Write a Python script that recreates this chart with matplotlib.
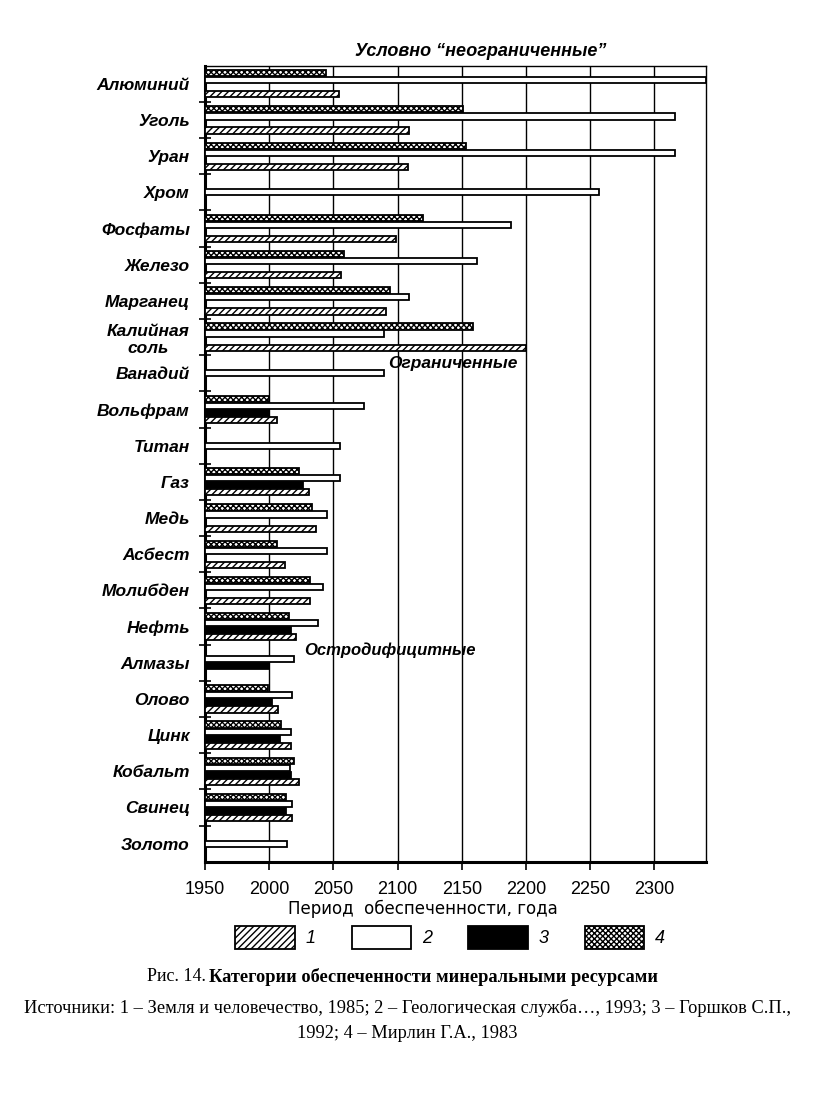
import numpy as np
import matplotlib
matplotlib.use("Agg")
import matplotlib.pyplot as plt
from matplotlib.patches import Patch

plt.rcParams["hatch.linewidth"] = 1.0
plt.rcParams["font.family"] = ["Liberation Sans", "DejaVu Sans"]

categories = ["Алюминий", "Уголь", "Уран", "Хром", "Фосфаты", "Железо", "Марганец",
              "Калийная\nсоль", "Ванадий", "Вольфрам", "Титан", "Газ", "Медь", "Асбест",
              "Молибден", "Нефть", "Алмазы", "Олово", "Цинк", "Кобальт", "Свинец", "Золото"]

nan = np.nan
# years of resource supply per source (nan = no data)
src4 = [2044, 2151, 2153, nan, 2120, 2058, 2094, 2159, nan, 2000, nan, 2023, 2033, 2006,
        2032, 2015, nan, 1999, 2009, 2019, 2013, nan]
src2 = [2340, 2316, 2316, 2257, 2188, 2162, 2109, 2089, 2089, 2074, 2055, 2055, 2045, 2045,
        2042, 2038, 2019, 2018, 2017, 2016, 2018, 2014]
src3 = [nan, nan, nan, nan, nan, nan, nan, nan, nan, 2000, nan, 2026, nan, nan,
        nan, 2017, 2000, 2002, 2008, 2017, 2013, nan]
src1 = [2054, 2109, 2108, nan, 2099, 2056, 2091, 2200, nan, 2006, nan, 2031, 2036, 2012,
        2032, 2021, nan, 2007, 2017, 2023, 2018, nan]

x_ticks = [1950, 2000, 2050, 2100, 2150, 2200, 2250, 2300]
legend_labels = ["1", "2", "3", "4"]

# draw order top->bottom inside each category: 4, 2, 3, 1
series = [
    (src4, dict(facecolor="white", hatch="xxxxxx")),
    (src2, dict(facecolor="white")),
    (src3, dict(facecolor="black")),
    (src1, dict(facecolor="white", hatch="/////")),
]

fig = plt.figure(figsize=(8.14, 10.95), dpi=100)
ax = fig.add_axes([0.252, 0.213, 0.615, 0.727])

slot = 0.195
bar_h = 0.17
x0 = 1950
for i in range(len(categories)):
    present = [k for k, (vals, _) in enumerate(series) if not np.isnan(vals[i])]
    first, last = min(present), max(present)
    mid = (first + last) / 2
    for k in range(first, last + 1):
        vals, style = series[k]
        v = vals[i]
        if np.isnan(v):
            continue
        y = i + (k - mid) * slot
        ax.barh(y, v - x0, left=x0, height=bar_h, edgecolor="black", linewidth=1.3,
                clip_on=True, zorder=3, **style)

ax.set_xlim(1950, 2340)
ax.set_ylim(len(categories) - 0.5, -0.5)

for xv in x_ticks[1:]:
    ax.axvline(xv, color="black", lw=1.0, zorder=1)

ax.set_xticks(x_ticks)
ax.set_xticklabels([str(t) for t in x_ticks], fontsize=13)
ax.tick_params(axis="x", length=6, width=1.2, direction="out", pad=8)

ax.set_yticks(range(len(categories)))
ax.set_yticklabels(categories, fontsize=12.5, fontweight="bold", fontstyle="italic",
                   multialignment="center")
ax.tick_params(axis="y", length=0, pad=11)
ax.set_yticks(np.arange(0.5, len(categories) - 0.5, 1), minor=True)
ax.tick_params(axis="y", which="minor", length=8, width=1.2, direction="inout")

for s in ["left", "bottom"]:
    ax.spines[s].set_linewidth(2.2)
for s in ["top", "right"]:
    ax.spines[s].set_linewidth(1.0)

ax.set_xlabel("Период  обеспеченности, года", fontsize=12, labelpad=3,
              family=["DejaVu Sans"])
ax.xaxis.set_label_coords(0.434, -0.048)

txt_style = dict(fontweight="bold", fontstyle="italic")
fig.text(0.59, 0.953, "Условно “неограниченные”", ha="center", va="center",
         fontsize=13, **txt_style)
ax.text(2193, 7.74, "Ограниченные", ha="right", va="center", zorder=4,
        fontsize=12.5, **txt_style)
ax.text(2027, 15.64, "Остродифицитные", ha="left", va="center", zorder=4,
        fontsize=12, **txt_style)

handles = [
    Patch(facecolor="white", edgecolor="black", hatch="/////", lw=1.3),
    Patch(facecolor="white", edgecolor="black", lw=1.3),
    Patch(facecolor="black", edgecolor="black", lw=1.3),
    Patch(facecolor="white", edgecolor="black", hatch="xxxxxx", lw=1.3),
]
leg = fig.legend(handles, legend_labels, loc="center", bbox_to_anchor=(0.553, 0.144),
                 ncol=4, frameon=False, handlelength=3.3, handleheight=1.6,
                 columnspacing=2.0, handletextpad=0.6,
                 prop=dict(size=13, style="italic"))

serif = ["Liberation Serif", "DejaVu Serif"]
fig.text(0.253, 0.108, "Рис. 14.", ha="right", va="center", fontsize=13, family=serif)
fig.text(0.257, 0.108, "Категории обеспеченности минеральными ресурсами", ha="left",
         va="center", fontsize=13.2, fontweight="bold", family=serif)
fig.text(0.5, 0.079, "Источники: 1 – Земля и человечество, 1985; 2 – Геологическая служба…, "
         "1993; 3 – Горшков С.П.,", ha="center", va="center", fontsize=13.2, family=serif)
fig.text(0.5, 0.056, "1992; 4 – Мирлин Г.А., 1983", ha="center", va="center",
         fontsize=13.2, family=serif)

fig.savefig("out.png", dpi=100, facecolor="white")
